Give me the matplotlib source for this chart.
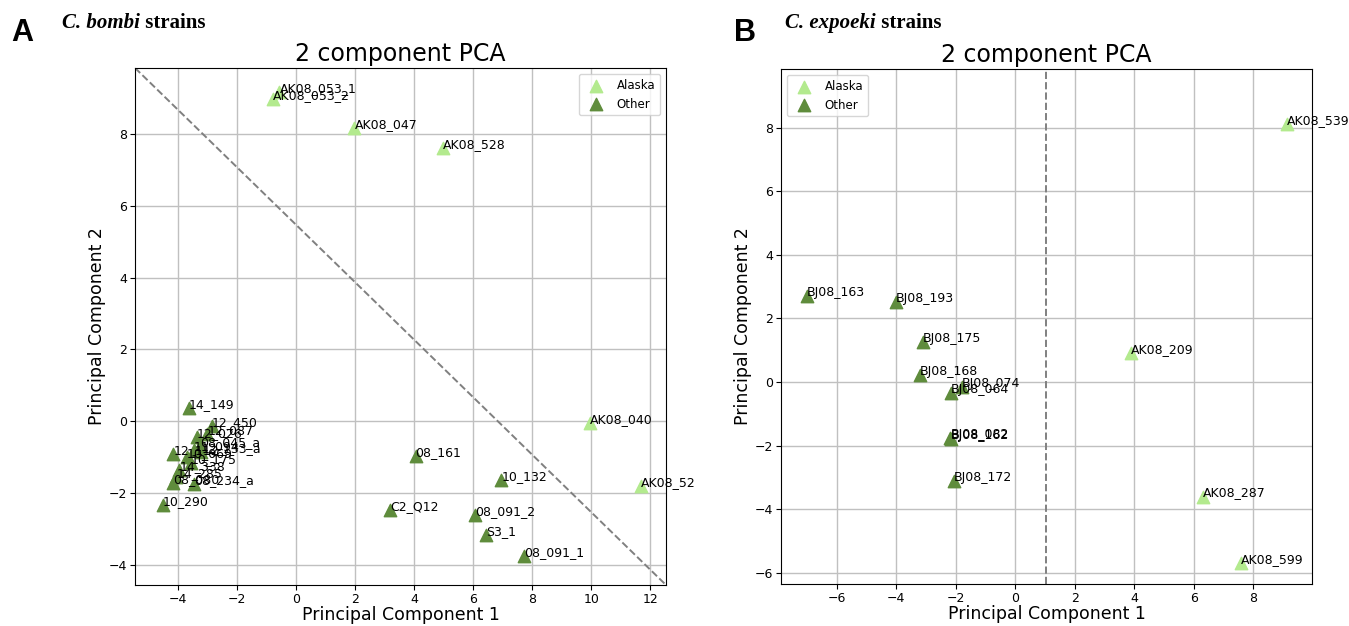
import matplotlib.pyplot as plt

# Panel A data (C. bombi)
a_alaska_names = ['AK08_053_1', 'AK08_053_2', 'AK08_047', 'AK08_528', 'AK08_040', 'AK08_52']
a_alaska_x = [-0.56, -0.77, 1.98, 4.98, 9.95, 11.67]
a_alaska_y = [9.18, 8.98, 8.17, 7.62, -0.05, -1.80]

a_other_names = ['14_149', '12_450', '12_087', '12_026', '08_045_a', '11_094', '12_133_a',
                 '12_112', '10_069', '10_175', '14_338', '14_285', '08_080', '08_234_a',
                 '10_290', '08_161', '10_132', 'C2_Q12', '08_091_2', 'S3_1', '08_091_1']
a_other_x = [-3.63, -2.85, -3.00, -3.35, -3.25, -3.45, -3.20,
             -4.15, -3.70, -3.55, -3.95, -4.05, -4.15, -3.45,
             -4.50, 4.05, 6.95, 3.20, 6.06, 6.43, 7.72]
a_other_y = [0.37, -0.12, -0.35, -0.45, -0.70, -0.80, -0.85,
             -0.90, -1.00, -1.15, -1.35, -1.55, -1.72, -1.75,
             -2.33, -0.96, -1.63, -2.47, -2.60, -3.17, -3.75]

# Panel B data (C. expoeki)
b_alaska_names = ['AK08_539', 'AK08_209', 'AK08_287', 'AK08_599']
b_alaska_x = [9.15, 3.90, 6.30, 7.60]
b_alaska_y = [8.10, 0.90, -3.60, -5.70]

b_other_names = ['BJ08_163', 'BJ08_193', 'BJ08_175', 'BJ08_168', 'BJ08_074',
                 'BJ08_064', 'BJ08_082', 'BJ08_162', 'BJ08_172']
b_other_x = [-7.00, -4.00, -3.10, -3.20, -1.80, -2.15, -2.18, -2.16, -2.05]
b_other_y = [2.70, 2.50, 1.25, 0.22, -0.15, -0.35, -1.75, -1.78, -3.10]

ALASKA_COLOR = '#b3ea8e'
OTHER_COLOR = '#5f8c3c'


def draw_pca(ax, al_names, al_x, al_y, ot_names, ot_x, ot_y, legend_loc):
    ax.scatter(al_x, al_y, marker='^', s=80, color=ALASKA_COLOR, label='Alaska', zorder=3)
    ax.scatter(ot_x, ot_y, marker='^', s=80, color=OTHER_COLOR, label='Other', zorder=3)
    for name, x, y in zip(al_names + ot_names, al_x + ot_x, al_y + ot_y):
        ax.annotate(name, (x, y), fontsize=9, zorder=4)
    ax.set_title('2 component PCA', fontsize=17, pad=5)
    ax.set_xlabel('Principal Component 1', fontsize=12.5, labelpad=0)
    ax.set_ylabel('Principal Component 2', fontsize=12.5, labelpad=2)
    ax.tick_params(labelsize=9, pad=2)
    ax.grid(True, color='#c0c0c0', linewidth=1)
    ax.set_axisbelow(True)
    ax.legend(loc=legend_loc, fontsize=8.5)


def heading(fig, x, y, letter, species):
    fig.text(x, y - 0.02, letter, fontsize=22, fontweight='bold', family='Liberation Sans')
    t = fig.text(x + 0.038, y, species, fontsize=15, fontweight='bold', style='italic',
                 family='Liberation Serif')
    fig.canvas.draw()
    bb = t.get_window_extent().transformed(fig.transFigure.inverted())
    fig.text(bb.x1, y, ' strains', fontsize=15, fontweight='bold', family='Liberation Serif')


fig = plt.figure(figsize=(13.49, 6.26), dpi=100)

# A
ax1 = fig.add_axes([0.1001, 0.0655, 0.3936, 0.8259])
draw_pca(ax1, a_alaska_names, a_alaska_x, a_alaska_y,
         a_other_names, a_other_x, a_other_y, 'upper right')
ax1.set_xlim(-5.45, 12.53)
ax1.set_ylim(-4.56, 9.84)
ax1.set_xticks(range(-4, 13, 2))
ax1.set_yticks(range(-4, 9, 2))
ax1.plot([-5.45, 12.53], [9.84, -4.56], linestyle='--', color='grey', linewidth=1.4, zorder=2)

# B
ax2 = fig.add_axes([0.5790, 0.0671, 0.3936, 0.8227])
draw_pca(ax2, b_alaska_names, b_alaska_x, b_alaska_y,
         b_other_names, b_other_x, b_other_y, 'upper left')
ax2.set_xlim(-7.87, 9.98)
ax2.set_ylim(-6.35, 9.84)
ax2.set_xticks(range(-6, 9, 2))
ax2.set_yticks(range(-6, 9, 2))
ax2.axvline(1.05, linestyle='--', color='grey', linewidth=1.4, zorder=2)

# panel headings
heading(fig, 0.008, 0.955, 'A', 'C. bombi')
heading(fig, 0.544, 0.955, 'B', 'C. expoeki')

fig.savefig('out.png', dpi=100)
